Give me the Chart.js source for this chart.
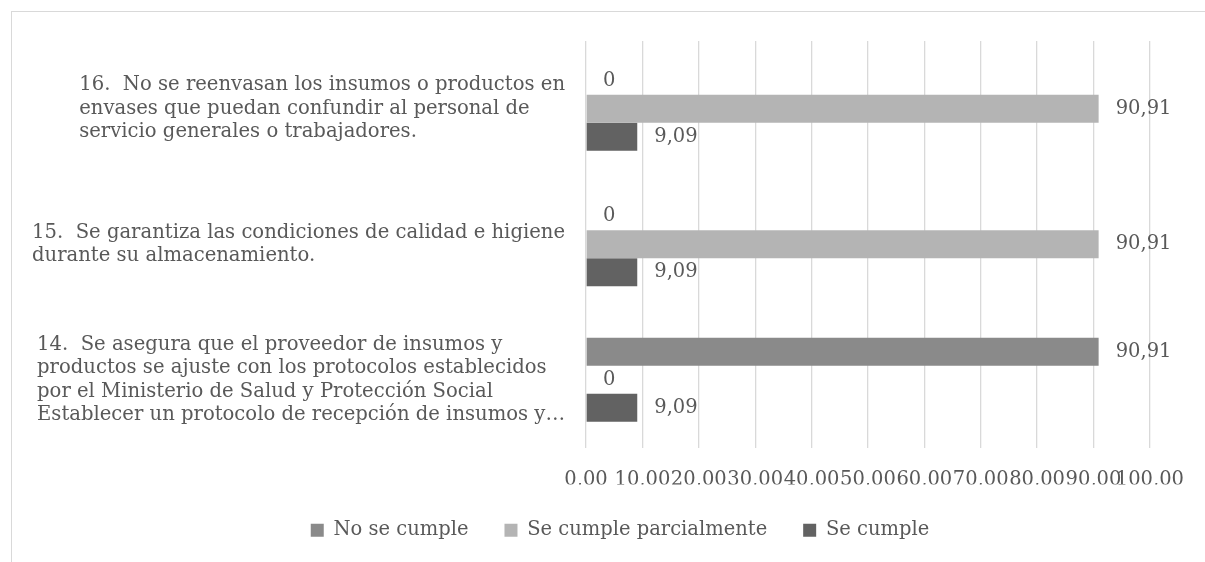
<!DOCTYPE html>
<html><head><meta charset="utf-8">
<script src="https://cdn.jsdelivr.net/npm/chart.js@4.4.1/dist/chart.umd.min.js"></script>
<style>html,body{margin:0;padding:0;background:#fff;overflow:hidden}#wrap{position:relative;width:1205px;height:562px}</style>
</head><body><div id="wrap"><canvas id="c" width="1205" height="562"></canvas></div>
<script>
const categories = [
  ["16.  No se reenvasan los insumos o productos en", "envases que puedan confundir al personal de", "servicio generales o trabajadores."],
  ["15.  Se garantiza las condiciones de calidad e higiene", "durante su almacenamiento."],
  ["14.  Se asegura que el proveedor de insumos y", "productos se ajuste con los protocolos establecidos", "por el Ministerio de Salud y Protección Social", "Establecer un protocolo de recepción de insumos y…"]
];
const seriesNames = ["No se cumple", "Se cumple parcialmente", "Se cumple"];
const noSeCumple = [0, 0, 90.91];
const seCumpleParcialmente = [90.91, 90.91, 0];
const seCumple = [9.09, 9.09, 9.09];
const xMin = 0, xMax = 100, xStep = 10;

const FONT = "'DejaVu Serif', serif";
const FS = 19.5;
const CAT_FS = 19.6;
const TXT = '#595959';
const GRID = '#d9d9d9';
const COLORS = ['#8a8a8a', '#b4b4b4', '#626262'];

const fmtTick = v => Number(v).toFixed(2).replace('.', ',');
const fmtVal = v => v === 0 ? '0' : v.toFixed(2).replace('.', ',');

const framePlugin = {
  id: 'frame',
  beforeDraw(chart) {
    const ctx = chart.ctx;
    ctx.save();
    ctx.fillStyle = '#fff';
    ctx.fillRect(0, 0, chart.width, chart.height);
    ctx.strokeStyle = GRID;
    ctx.lineWidth = 1;
    ctx.strokeRect(11.5, 11.5, chart.width + 20, chart.height + 20);
    ctx.restore();
  }
};

const catLabelPlugin = {
  id: 'catLabels',
  afterDraw(chart) {
    const ctx = chart.ctx;
    const ys = chart.scales.y;
    const lineH = 23.5;
    ctx.save();
    ctx.font = CAT_FS + 'px ' + FONT;
    ctx.fillStyle = TXT;
    ctx.textAlign = 'left';
    ctx.textBaseline = 'middle';
    categories.forEach((lines, i) => {
      const yc = ys.getPixelForValue(i);
      const maxW = Math.max(...lines.map(l => ctx.measureText(l).width));
      const left = chart.chartArea.left - 21 - maxW;
      lines.forEach((l, j) => {
        ctx.fillText(l, left, yc + (j - (lines.length - 1) / 2) * lineH);
      });
    });
    ctx.restore();
  }
};

const dataLabelPlugin = {
  id: 'dataLabels',
  afterDatasetsDraw(chart) {
    const ctx = chart.ctx;
    ctx.save();
    ctx.font = FS + 'px ' + FONT;
    ctx.fillStyle = TXT;
    ctx.textAlign = 'left';
    ctx.textBaseline = 'middle';
    chart.data.datasets.forEach((ds, di) => {
      const meta = chart.getDatasetMeta(di);
      meta.data.forEach((el, i) => {
        ctx.fillText(fmtVal(ds.data[i]), el.x + 17, el.y);
      });
    });
    ctx.restore();
  }
};

new Chart(document.getElementById('c'), {
  type: 'bar',
  data: {
    labels: categories.map(c => c.join(' ')),
    datasets: [
      { label: seriesNames[0], data: noSeCumple, backgroundColor: COLORS[0] },
      { label: seriesNames[1], data: seCumpleParcialmente, backgroundColor: COLORS[1] },
      { label: seriesNames[2], data: seCumple, backgroundColor: COLORS[2] }
    ]
  },
  options: {
    indexAxis: 'y',
    responsive: false,
    animation: false,
    devicePixelRatio: 1,
    datasets: { bar: { categoryPercentage: 0.619, barPercentage: 1 } },
    layout: { padding: { left: 87, right: 52, top: 41, bottom: 12 } },
    scales: {
      x: {
        min: xMin, max: xMax,
        ticks: { stepSize: xStep, padding: 21, color: TXT, font: { family: FONT, size: FS }, callback: v => fmtTick(v), autoSkip: false, maxRotation: 0 },
        grid: { color: GRID, drawTicks: false, lineWidth: 1.3 },
        border: { display: false },
        afterFit: s => { s.height = 37; }
      },
      y: {
        ticks: { display: false },
        grid: { display: false },
        border: { display: false },
        afterFit: s => { s.width = 499; }
      }
    },
    plugins: {
      legend: {
        position: 'bottom',
        labels: { boxWidth: 13, boxHeight: 13, padding: 36, color: TXT, font: { family: FONT, size: FS } }
      },
      tooltip: { enabled: false }
    }
  },
  plugins: [framePlugin, catLabelPlugin, dataLabelPlugin]
});
</script>
</body></html>
